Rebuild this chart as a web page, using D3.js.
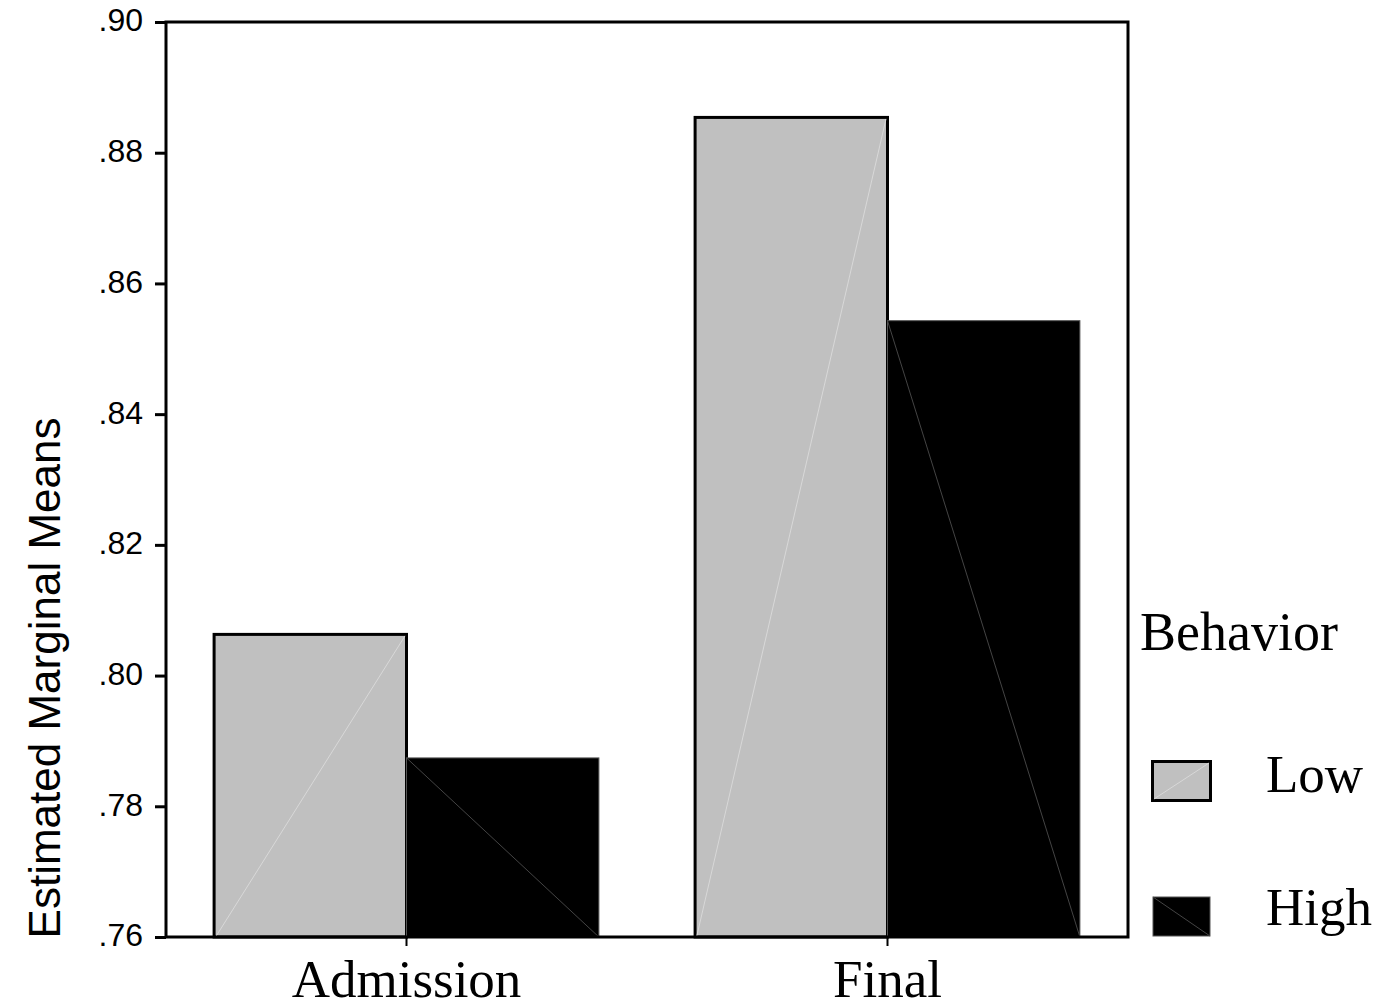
<!DOCTYPE html>
<html>
<head>
<meta charset="utf-8">
<script src="https://cdn.jsdelivr.net/npm/d3@7"></script>
<style>
  html, body { margin: 0; padding: 0; background: #fff; }
  svg { display: block; }
</style>
</head>
<body>
<svg id="chart" width="1382" height="1007"></svg>
<script>
const categories = ["Admission", "Final"];
const groups = ["Low", "High"];
const lowValues = [0.8063, 0.8854];
const highValues = [0.7874, 0.8543];
const yTicks = [0.76, 0.78, 0.80, 0.82, 0.84, 0.86, 0.88, 0.90];
const yTickLabels = [".76", ".78", ".80", ".82", ".84", ".86", ".88", ".90"];
const yTitle = "Estimated Marginal Means";
const legendTitle = "Behavior";

const fills = { Low: "#c0c0c0", High: "#000000" };

const data = categories.map((c, i) => ({ cat: c, Low: lowValues[i], High: highValues[i] }));

const svg = d3.select("#chart");
const L = 166, R = 1128, T = 22, B = 937;

const x0 = d3.scaleBand().domain(categories).range([L, R]).paddingInner(0.2).paddingOuter(0.1);
const x1 = d3.scaleBand().domain(groups).range([0, x0.bandwidth()]);
const y = d3.scaleLinear().domain([0.76, 0.90]).range([B, T]);

// bars
const g = svg.append("g");
data.forEach(d => {
  groups.forEach(k => {
    const bx = x0(d.cat) + x1(k), bw = x1.bandwidth();
    const by = y(d[k]), bh = y(0.76) - y(d[k]);
    g.append("rect")
      .attr("x", bx).attr("y", by).attr("width", bw).attr("height", bh)
      .attr("fill", fills[k])
      .attr("stroke", k === "Low" ? "#000" : "#555")
      .attr("stroke-width", k === "Low" ? 3 : 1);
    if (k === "Low") {
      g.append("line").attr("x1", bx + 1.5).attr("y1", y(0.76)).attr("x2", bx + bw - 1.5).attr("y2", by + 1.5)
        .attr("stroke", "#d8d8d8").attr("stroke-width", 1);
    } else {
      g.append("line").attr("x1", bx).attr("y1", by).attr("x2", bx + bw).attr("y2", y(0.76))
        .attr("stroke", "#444").attr("stroke-width", 1);
    }
  });
});

// frame
svg.append("rect").attr("x", L).attr("y", T).attr("width", R - L).attr("height", B - T)
  .attr("fill", "none").attr("stroke", "#000").attr("stroke-width", 3);

// y axis
const yAxis = d3.axisLeft(y).tickValues(yTicks)
  .tickFormat((d, i) => yTickLabels[i]).tickSize(11).tickPadding(12);
const ya = svg.append("g").attr("transform", `translate(${L},0)`).call(yAxis);
ya.select(".domain").remove();
ya.selectAll(".tick line").attr("stroke", "#000").attr("stroke-width", 3);
ya.selectAll(".tick text").attr("font-family", "'Liberation Sans', Arial, sans-serif")
  .attr("font-size", 32).attr("fill", "#000").attr("dy", "0.28em");

// x axis
const xAxis = d3.axisBottom(x0).tickSize(9).tickPadding(14);
const xa = svg.append("g").attr("transform", `translate(0,${B})`).call(xAxis);
xa.select(".domain").remove();
xa.selectAll(".tick line").attr("stroke", "#000").attr("stroke-width", 2);
xa.selectAll(".tick text").attr("font-family", "'Liberation Serif', 'Times New Roman', serif")
  .attr("font-size", 53).attr("fill", "#000").attr("dy", null).attr("y", 60);

// y title
svg.append("text")
  .attr("transform", "translate(60,678) rotate(-90)")
  .attr("text-anchor", "middle")
  .attr("font-family", "'Liberation Sans', Arial, sans-serif")
  .attr("font-size", 44).attr("fill", "#000")
  .text(yTitle);

// legend
const serif = "'Liberation Serif', 'Times New Roman', serif";
svg.append("text").attr("x", 1140).attr("y", 650)
  .attr("font-family", serif).attr("font-size", 54).attr("fill", "#000").text(legendTitle);

const legendRows = [
  { key: "Low", sx: 1152.5, sy: 761.5, sw: 58, sh: 39, ty: 792 },
  { key: "High", sx: 1153, sy: 897, sw: 57, sh: 39, ty: 925 }
];
legendRows.forEach(r => {
  svg.append("rect").attr("x", r.sx).attr("y", r.sy).attr("width", r.sw).attr("height", r.sh)
    .attr("fill", fills[r.key])
    .attr("stroke", r.key === "Low" ? "#000" : "#555")
    .attr("stroke-width", r.key === "Low" ? 3 : 1);
  if (r.key === "Low") {
    svg.append("line").attr("x1", r.sx + 1.5).attr("y1", r.sy + r.sh - 1.5).attr("x2", r.sx + r.sw - 1.5).attr("y2", r.sy + 1.5)
      .attr("stroke", "#d8d8d8").attr("stroke-width", 1);
  } else {
    svg.append("line").attr("x1", r.sx).attr("y1", r.sy).attr("x2", r.sx + r.sw).attr("y2", r.sy + r.sh)
      .attr("stroke", "#444").attr("stroke-width", 1);
  }
  svg.append("text").attr("x", 1266).attr("y", r.ty)
    .attr("font-family", serif).attr("font-size", 53).attr("fill", "#000").text(r.key);
});
</script>
</body>
</html>
